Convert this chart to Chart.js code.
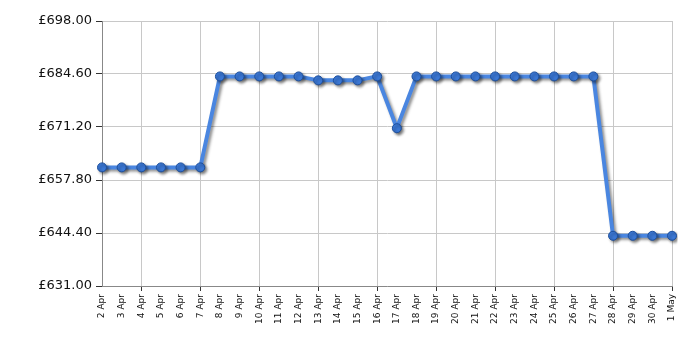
<!DOCTYPE html>
<html><head><meta charset="utf-8">
<script src="https://cdn.jsdelivr.net/npm/chart.js@4"></script>
<style>html,body{margin:0;padding:0;background:#fff}#wrap{width:700px;height:350px}</style>
</head><body><div id="wrap"><canvas id="c" width="700" height="350"></canvas></div>
<script>
const dates = ['2 Apr','3 Apr','4 Apr','5 Apr','6 Apr','7 Apr','8 Apr','9 Apr','10 Apr','11 Apr','12 Apr','13 Apr','14 Apr','15 Apr','16 Apr','17 Apr','18 Apr','19 Apr','20 Apr','21 Apr','22 Apr','23 Apr','24 Apr','25 Apr','26 Apr','27 Apr','28 Apr','29 Apr','30 Apr','1 May'];
const prices = [660.99,660.99,660.99,660.99,660.99,660.99,683.99,683.99,683.99,683.99,683.99,682.99,682.99,682.99,683.99,670.9,683.99,683.99,683.99,683.99,683.99,683.99,683.99,683.99,683.99,683.99,643.7,643.7,643.7,643.7];
const yTicks = [631.00,644.40,657.80,671.20,684.60,698.00];

const shadowPlugin = {
  id:'shadow',
  beforeDatasetDraw(chart){const c=chart.ctx;c.save();c.shadowColor='rgba(0,0,0,0.45)';c.shadowBlur=3;c.shadowOffsetX=2;c.shadowOffsetY=2;},
  afterDatasetDraw(chart){chart.ctx.restore();}
};
const gridShown = i => i % 3 === 2;

new Chart(document.getElementById('c'), {
  type:'line',
  data:{labels:dates,datasets:[{data:prices,borderColor:'#4a86e0',borderWidth:4,backgroundColor:'#3b78d6',pointBackgroundColor:'#3b78d6',pointBorderColor:'#1d4f9c',pointBorderWidth:1,pointRadius:4.5,tension:0,fill:false}]},
  options:{
    responsive:false,animation:false,
    layout:{padding:{top:21,right:28,left:0,bottom:0}},
    plugins:{legend:{display:false},tooltip:{enabled:false}},
    scales:{
      x:{offset:false,
        grid:{color:c=>gridShown(c.index)?'#c8c8c8':'rgba(0,0,0,0)',tickColor:c=>gridShown(c.index)?'#333':'rgba(0,0,0,0)',tickLength:5,drawTicks:true},
        border:{color:'#888',width:1},
        ticks:{autoSkip:false,maxRotation:90,minRotation:90,color:'#111',font:{family:'DejaVu Sans',size:9},padding:3},
        afterFit(s){s.height=64;}
      },
      y:{min:631,max:698,
        afterBuildTicks(s){s.ticks=yTicks.map(v=>({value:v}));},
        grid:{color:'#c8c8c8',tickColor:'#333',tickLength:6},
        border:{color:'#888',width:1},
        ticks:{color:'#111',font:{family:'DejaVu Sans',size:13},padding:4,callback:v=>'£'+Number(v).toFixed(2)},
        afterFit(s){s.width=102;}
      }
    }
  },
  plugins:[shadowPlugin]
});
</script></body></html>
